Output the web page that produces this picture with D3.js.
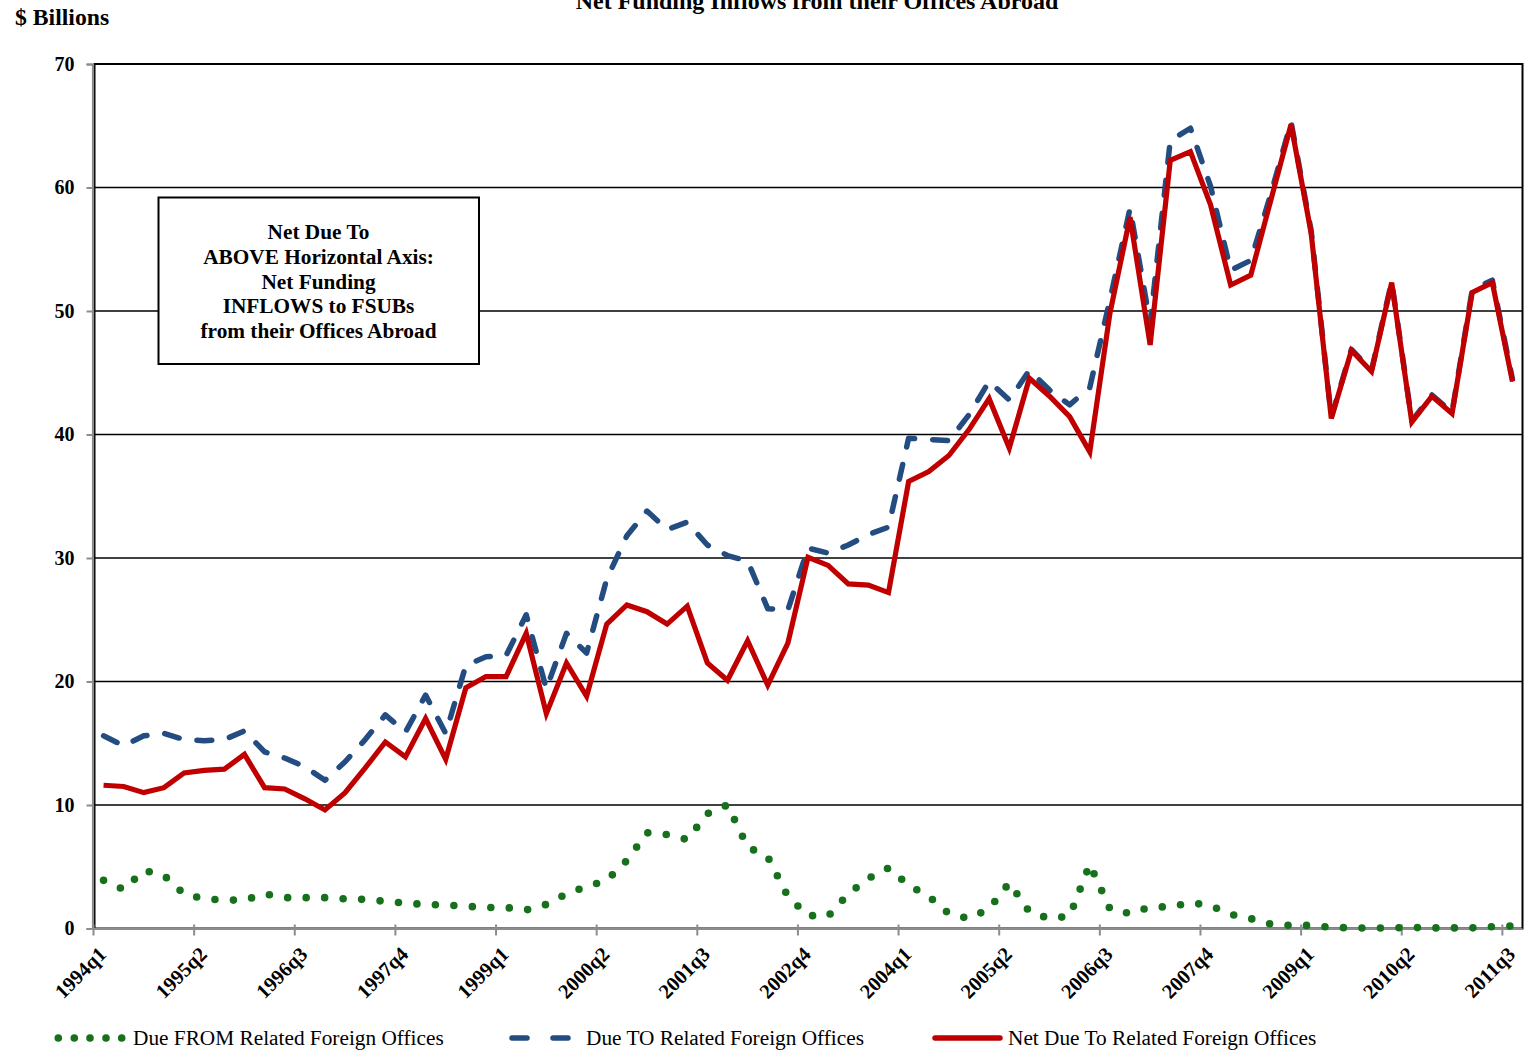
<!DOCTYPE html>
<html>
<head>
<meta charset="utf-8">
<script src="https://cdn.jsdelivr.net/npm/d3@7"></script>
<style>
  body { margin: 0; background: #fff; }
  svg { display: block; font-family: 'Liberation Serif', 'Times New Roman', serif; }
</style>
</head>
<body>
<svg id="chart" width="1524" height="1052"></svg>
<script>
var quarters = [
  '1994q1', '1994q2', '1994q3', '1994q4', '1995q1', '1995q2', '1995q3', '1995q4',
  '1996q1', '1996q2', '1996q3', '1996q4', '1997q1', '1997q2', '1997q3', '1997q4',
  '1998q1', '1998q2', '1998q3', '1998q4', '1999q1', '1999q2', '1999q3', '1999q4',
  '2000q1', '2000q2', '2000q3', '2000q4', '2001q1', '2001q2', '2001q3', '2001q4',
  '2002q1', '2002q2', '2002q3', '2002q4', '2003q1', '2003q2', '2003q3', '2003q4',
  '2004q1', '2004q2', '2004q3', '2004q4', '2005q1', '2005q2', '2005q3', '2005q4',
  '2006q1', '2006q2', '2006q3', '2006q4', '2007q1', '2007q2', '2007q3', '2007q4',
  '2008q1', '2008q2', '2008q3', '2008q4', '2009q1', '2009q2', '2009q3', '2009q4',
  '2010q1', '2010q2', '2010q3', '2010q4', '2011q1', '2011q2', '2011q3'
]

var tickLabels = ['1994q1', '1995q2', '1996q3', '1997q4', '1999q1', '2000q2', '2001q3', '2002q4',
  '2004q1', '2005q2', '2006q3', '2007q4', '2009q1', '2010q2', '2011q3']

var yTicks = [0, 10, 20, 30, 40, 50, 60, 70]

// $ billions
var dueFrom = [
  3.9, 3.15, 4.7, 4.3, 2.8, 2.4, 2.3, 2.3, 2.8, 2.5,
  2.5, 2.5, 2.4, 2.35, 2.2, 2.05, 1.95, 1.9, 1.8, 1.7,
  1.7, 1.5, 1.95, 2.8, 3.4, 3.9, 5.5, 7.75, 7.6, 7.2,
  9.3, 10.0, 6.6, 5.8, 2.6, 1.05, 1.0, 2.8, 4.05, 4.9,
  3.5, 2.6, 1.2, 0.8, 1.6, 3.7, 1.35, 0.8, 1.0, 5.2,
  1.6, 1.2, 1.75, 1.75, 2.1, 1.85, 1.15, 0.8, 0.35, 0.25,
  0.25, 0.1, 0.05, 0.03, 0.05, 0.08, 0.05, 0.05, 0.05, 0.15,
  0.2
]

var dueTo = [
  15.6, 14.8, 15.6, 15.8, 15.3, 15.2, 15.3, 16.0, 14.3, 13.8,
  13.1, 12.0, 13.5, 15.3, 17.3, 15.9, 18.9, 15.8, 21.3, 22.0,
  22.1, 25.4, 19.4, 23.9, 22.3, 28.3, 31.8, 33.8, 32.3, 32.9,
  31.05, 30.2, 29.75, 25.9, 25.8, 30.8, 30.4, 31.05, 31.9, 32.5,
  39.7, 39.6, 39.5, 41.6, 44.3, 42.8, 45.2, 43.6, 42.4, 43.8,
  50.9, 58.3, 49.0, 63.8, 64.8, 60.1, 53.3, 54.1, 59.5, 65.3,
  56.5, 41.4, 46.9, 45.2, 52.4, 41.1, 43.2, 41.8, 51.7, 52.5,
  44.5
]

var netDueTo = [
  11.6, 11.5, 11.0, 11.4, 12.6, 12.8, 12.9, 14.1, 11.4, 11.3,
  10.5, 9.6, 11.0, 13.0, 15.1, 13.9, 17.0, 13.7, 19.5, 20.4,
  20.4, 23.9, 17.4, 21.5, 18.8, 24.65, 26.2, 25.65, 24.65, 26.1,
  21.5, 20.1, 23.3, 19.7, 23.1, 30.05, 29.4, 27.9, 27.8, 27.2,
  36.2, 37.0, 38.3, 40.4, 42.9, 38.9, 44.55, 43.1, 41.45, 38.6,
  49.8, 57.6, 47.25, 62.2, 62.9, 58.6, 52.1, 52.9, 59.0, 65.1,
  56.3, 41.3, 46.8, 45.1, 52.3, 41.0, 43.1, 41.7, 51.5, 52.3,
  44.3
]

var boxLines = ['Net Due To', 'ABOVE Horizontal Axis:', 'Net Funding', 'INFLOWS to FSUBs', 'from their Offices Abroad']

var GREEN = '#17701c'
var BLUE = '#234c80'
var RED = '#c00000'

var svg = d3.select('#chart')
var plot = { left: 93.5, right: 1522.5, top: 64, bottom: 928.5 }

var x = d3.scaleBand().domain(quarters).range([plot.left, plot.right]).padding(0)
var y = d3.scaleLinear().domain([0, 70]).range([plot.bottom, plot.top])

function cx (q) { return x(q) + x.bandwidth() / 2 }

// title, cut off at the top like the original
svg.append('text')
  .attr('x', 817).attr('y', 9)
  .attr('text-anchor', 'middle')
  .style('font-size', '24px').style('font-weight', 'bold')
  .text('Net Funding Inflows from their Offices Abroad')

svg.append('text')
  .attr('x', 15).attr('y', 25)
  .style('font-size', '23.7px').style('font-weight', 'bold')
  .text('$ Billions')

// gridlines
svg.append('g')
  .selectAll('line')
  .data(yTicks.filter(function (d) { return d > 0 && d < 70 }))
  .join('line')
  .attr('x1', plot.left).attr('x2', plot.right)
  .attr('y1', function (d) { return y(d) }).attr('y2', function (d) { return y(d) })
  .attr('stroke', '#000').attr('stroke-width', 1.6)

// plot frame
svg.append('rect')
  .attr('x', plot.left + 1).attr('y', plot.top)
  .attr('width', plot.right - plot.left - 1).attr('height', plot.bottom - plot.top)
  .attr('fill', 'none').attr('stroke', '#000').attr('stroke-width', 2)

// y axis
var yAxis = d3.axisLeft(y).tickValues(yTicks).tickSize(6).tickPadding(12)
var yg = svg.append('g').attr('transform', 'translate(' + (plot.left - 1) + ',0)').call(yAxis)
yg.select('.domain').attr('stroke', '#8c8c8c').attr('stroke-width', 2.2)
yg.selectAll('.tick line').attr('stroke', '#8c8c8c').attr('stroke-width', 2)
yg.selectAll('.tick text')
  .attr('fill', '#000')
  .style('font-family', "'Liberation Serif', serif")
  .style('font-size', '20px').style('font-weight', 'bold')

// x axis: ticks between categories, labels on every fifth quarter
var xg = svg.append('g').attr('class', 'x-axis')
xg.append('line')
  .attr('x1', plot.left - 1).attr('x2', plot.right)
  .attr('y1', plot.bottom + 0.5).attr('y2', plot.bottom + 0.5)
  .attr('stroke', '#8c8c8c').attr('stroke-width', 2.2)
xg.selectAll('line.tk')
  .data(tickLabels)
  .join('line')
  .attr('class', 'tk')
  .attr('x1', function (d) { return x(d) }).attr('x2', function (d) { return x(d) })
  .attr('y1', plot.bottom - 4).attr('y2', plot.bottom + 7)
  .attr('stroke', '#8c8c8c').attr('stroke-width', 2)
xg.selectAll('text')
  .data(tickLabels)
  .join('text')
  .attr('transform', function (d) { return 'translate(' + (cx(d) + 4) + ',' + (plot.bottom + 27) + ') rotate(-45)' })
  .attr('text-anchor', 'end')
  .style('font-size', '20.5px').style('font-weight', 'bold')
  .text(function (d) { return d })

// series
var line = d3.line()
  .x(function (d, i) { return cx(quarters[i]) })
  .y(function (d) { return y(d) })

svg.append('path').datum(dueFrom)
  .attr('d', line)
  .attr('fill', 'none').attr('stroke', GREEN)
  .attr('stroke-width', 7.6).attr('stroke-linecap', 'round')
  .attr('stroke-dasharray', '0,18.5')

svg.append('path').datum(dueTo)
  .attr('d', line)
  .attr('fill', 'none').attr('stroke', BLUE)
  .attr('stroke-width', 5.5).attr('stroke-linecap', 'round').attr('stroke-linejoin', 'round')
  .attr('stroke-dasharray', '15,18')

svg.append('path').datum(netDueTo)
  .attr('d', line)
  .attr('fill', 'none').attr('stroke', RED)
  .attr('stroke-width', 5.2).attr('stroke-linejoin', 'miter')

// annotation box
var box = svg.append('g')
box.append('rect')
  .attr('x', 158.5).attr('y', 197.5).attr('width', 320.5).attr('height', 166.5)
  .attr('fill', '#fff').attr('stroke', '#000').attr('stroke-width', 2)
box.selectAll('text')
  .data(boxLines)
  .join('text')
  .attr('x', 318.5)
  .attr('y', function (d, i) { return 239 + i * 24.8 })
  .attr('text-anchor', 'middle')
  .style('font-size', '21.3px').style('font-weight', 'bold')
  .text(function (d) { return d })

// legend
var legend = svg.append('g').style('font-size', '21.3px')
var ly = 1038
legend.selectAll('circle')
  .data([58.3, 74.3, 90, 106, 121.7])
  .join('circle')
  .attr('cx', function (d) { return d }).attr('cy', ly).attr('r', 3.8)
  .attr('fill', GREEN)
legend.append('text').attr('x', 133).attr('y', ly + 7).text('Due FROM Related Foreign Offices')

legend.selectAll('line.bl')
  .data([[512, 527], [553, 568]])
  .join('line')
  .attr('class', 'bl')
  .attr('x1', function (d) { return d[0] }).attr('x2', function (d) { return d[1] })
  .attr('y1', ly).attr('y2', ly)
  .attr('stroke', BLUE).attr('stroke-width', 5.5).attr('stroke-linecap', 'round')
legend.append('text').attr('x', 586).attr('y', ly + 7).text('Due TO Related Foreign Offices')

legend.append('line')
  .attr('x1', 935).attr('x2', 1000).attr('y1', ly).attr('y2', ly)
  .attr('stroke', RED).attr('stroke-width', 5.5).attr('stroke-linecap', 'round')
legend.append('text').attr('x', 1008).attr('y', ly + 7).text('Net Due To Related Foreign Offices')
</script>
</body>
</html>
